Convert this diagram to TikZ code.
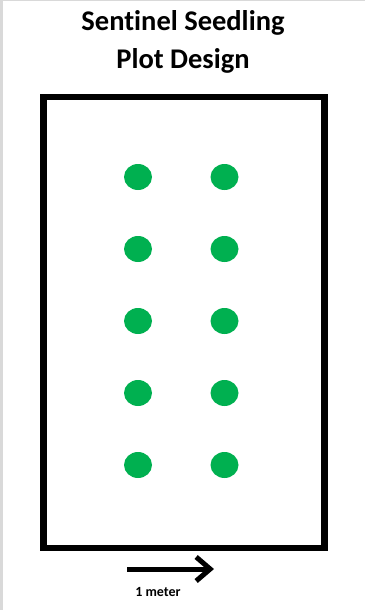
\documentclass[tikz,border=0pt]{standalone}
\usepackage{fontspec}
\setmainfont[Ligatures=NoCommon]{Carlito}
\usetikzlibrary{positioning,arrows.meta,shapes.geometric}
\definecolor{seedgreen}{HTML}{00B050}
\definecolor{edgegray}{HTML}{D9D9D9}

\begin{document}
\begin{tikzpicture}[x=1pt,y=-1pt,
    seedling/.style={fill=seedgreen, ellipse, inner sep=0pt, minimum width=28pt, minimum height=26pt},
    titletext/.style={font=\bfseries\fontsize{28.5}{34}\selectfont, anchor=base}]
    \useasboundingbox (0,0) rectangle (365,610);
    % page edge
    \fill[edgegray] (0,0) rectangle (3,610);
    \fill[edgegray] (0,0) rectangle (365,1.5);
    % title
    \node[titletext] (title1) at (183,31) {Sentinel Seedling};
    \node[titletext] (title2) at (183,68) {Plot Design};
    % plot outline
    \node[draw, line width=6.5pt, inner sep=0pt, minimum width=281pt, minimum height=451pt] (plot) at (184,322.5) {};
    % seedlings, two columns of five
    \foreach \r/\y in {1/177,2/249,3/321,4/393,5/465} {
      \node[seedling] (s\r a) at (138,\y) {};
      \node[seedling] (s\r b) at (224.5,\y) {};
    }
    % scale arrow
    \coordinate (a0) at (127,569);
    \coordinate (a1) at (214,569);
    \draw[line width=5pt, -{Straight Barb[length=14pt, width=24pt]}] (a0) -- (a1);
    \node[font=\bfseries\fontsize{14}{16}\selectfont] (scale) at (158,592) {1 meter};
\end{tikzpicture}
\end{document}
